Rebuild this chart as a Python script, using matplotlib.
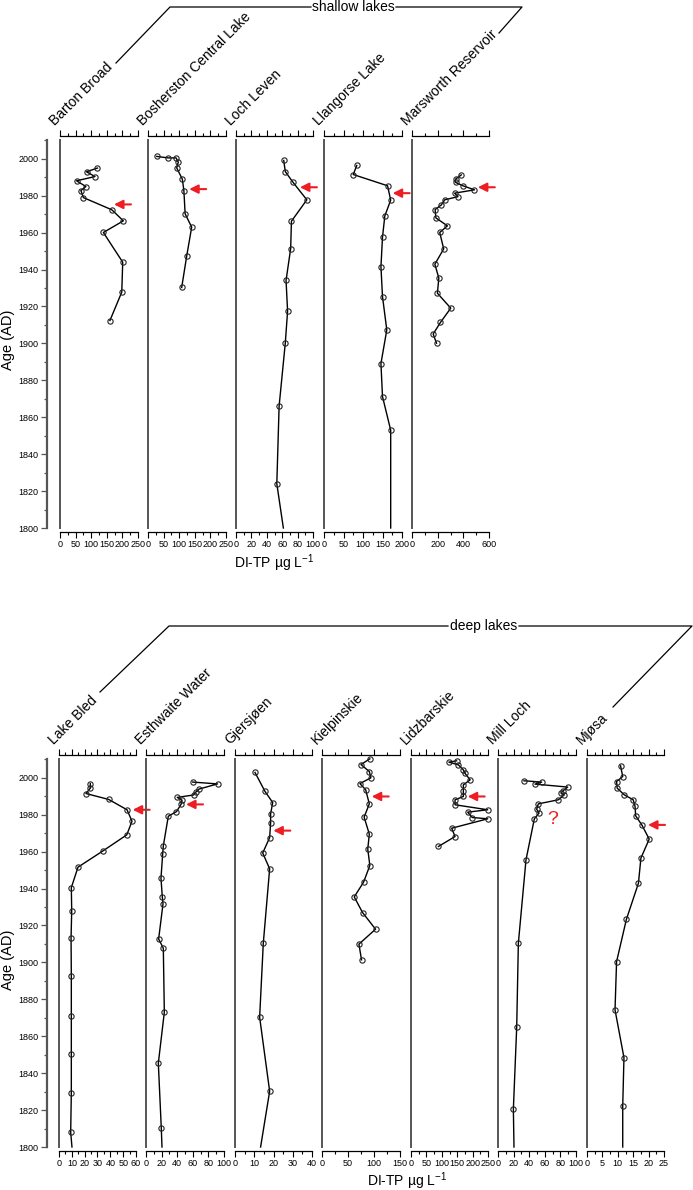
"""
Diatom-inferred TP profiles for shallow and deep lakes, 1800-2010.
Two stacked blocks of narrow stratigraphic panels sharing an age axis.
"""

import matplotlib
matplotlib.use('Agg')
import matplotlib.pyplot as plt
from matplotlib.lines import Line2D
from matplotlib.ticker import MultipleLocator

plt.rcParams['font.family'] = ['Liberation Sans', 'DejaVu Sans']
plt.rcParams['mathtext.fontset'] = 'custom'
plt.rcParams['mathtext.rm'] = 'Liberation Sans'
plt.rcParams['mathtext.it'] = 'Liberation Sans:italic'

W, H = 693, 1190
RED = '#ee1d23'
YTOP = 2010.2

# ---- shallow lakes ----
barton_age = [1995.0, 1993.0, 1990.4, 1988.1, 1985.0, 1982.8, 1979.0, 1972.4,
              1966.4, 1960.1, 1944.0, 1927.8, 1912.4]
barton_tp = [120, 85, 112, 53, 83, 67, 75, 166, 203, 139, 201, 198, 160]

bosh_age = [2001.3, 2000.5, 2000.5, 1998.2, 1995.1, 1989.0, 1982.8, 1970.2,
            1963.0, 1947.3, 1930.3]
bosh_tp = [28, 65, 90, 97, 92, 110, 115, 119, 140, 124, 108]

leven_age = [1999.1, 1993.1, 1987.3, 1977.8, 1966.2, 1951.4, 1934.1, 1917.5,
             1900.1, 1866.1, 1824.0]
leven_tp = [62, 64, 74, 92, 72, 71, 65, 67, 64, 56, 53]

llang_age = [1996.4, 1991.5, 1985.4, 1977.6, 1969.1, 1957.6, 1941.5, 1925.4,
             1907.3, 1889.1, 1871.2, 1853.0]
llang_tp = [84, 75, 163, 171, 156, 150, 146, 150, 161, 146, 150, 171]

mars_age = [1991.3, 1989.0, 1987.2, 1985.4, 1983.2, 1981.4, 1979.5, 1977.8,
            1975.0, 1972.5, 1968.0, 1963.7, 1960.1, 1951.2, 1942.9, 1935.4,
            1927.2, 1919.1, 1911.4, 1905.1, 1900.1]
mars_tp = [384, 340, 340, 397, 487, 332, 358, 255, 228, 180, 186, 276, 216,
           247, 178, 209, 198, 302, 222, 165, 191]

# ---- deep lakes ----
bled_age = [1996.9, 1994.4, 1991.5, 1988.3, 1982.7, 1976.5, 1969.1, 1960.3,
            1951.6, 1940.5, 1928.1, 1913.1, 1892.5, 1871.2, 1850.2, 1829.3,
            1808.1]
bled_tp = [24.4, 24.4, 21.0, 38.7, 53.0, 56.9, 52.8, 34.0, 14.8, 9.6, 9.9,
           9.4, 9.6, 9.6, 9.6, 9.6, 9.1]

esth_age = [1997.7, 1996.7, 1993.9, 1992.4, 1990.7, 1989.4, 1987.9, 1985.6,
            1981.7, 1979.2, 1963.1, 1958.8, 1945.6, 1935.5, 1931.7, 1912.7,
            1907.7, 1873.0, 1845.4, 1810.3]
esth_tp = [59.9, 91.7, 67.9, 64.1, 60.9, 40.1, 46.2, 44.9, 39.1, 28.6, 22.2,
           21.4, 19.2, 20.9, 21.8, 16.2, 22.2, 23.5, 15.8, 19.6]

gjer_age = [2002.9, 1992.6, 1986.6, 1980.5, 1975.6, 1967.6, 1959.3, 1950.7,
            1910.4, 1870.3, 1830.2]
gjer_tp = [10.4, 15.6, 19.6, 18.5, 18.5, 18.0, 14.4, 18.0, 14.7, 12.8, 18.0]

kiel_age = [2010.3, 2007.2, 2003.4, 2000.0, 1996.9, 1993.5, 1985.9, 1978.7,
            1969.5, 1961.4, 1952.5, 1943.5, 1935.5, 1927.0, 1918.0, 1909.9,
            1901.4]
kiel_tp = [92, 75, 91, 94, 73, 84, 91, 81, 91, 88, 92, 80, 62, 78, 103, 71, 76]

lidz_age = [2009.2, 2008.5, 2007.0, 2004.3, 2002.5, 1998.9, 1996.2, 1992.6,
            1989.9, 1988.1, 1985.4, 1982.7, 1981.4, 1978.5, 1977.8, 1972.7,
            1968.2, 1962.8]
lidz_tp = [148, 123, 154, 170, 175, 192, 170, 170, 170, 143, 143, 249, 184,
           199, 249, 132, 143, 89]

mill_age = [1998.4, 1997.7, 1996.6, 1995.0, 1993.1, 1991.7, 1990.8, 1988.1,
            1985.9, 1983.0, 1980.9, 1977.8, 1955.6, 1910.4, 1865.2, 1820.4]
mill_tp = [33.3, 56.0, 47.4, 89.3, 83.8, 80.8, 85.0, 77.4, 51.7, 49.6, 52.6,
           46.6, 35.9, 26.1, 24.0, 19.7]

mjosa_age = [2006.5, 2000.7, 1998.0, 1994.4, 1990.8, 1988.1, 1984.5, 1979.4,
             1974.5, 1966.8, 1956.5, 1942.9, 1923.4, 1900.4, 1874.3, 1848.4,
             1822.4]
mjosa_tp = [10.9, 11.6, 9.6, 9.8, 12.1, 15.0, 15.6, 15.8, 17.8, 20.2, 17.5,
            16.7, 12.8, 9.6, 9.1, 12.0, 11.6]

# value where the profile line meets the 1800 base (None = line stops)
shallow_base = [None, None, 61.5, 171, None]
deep_base = [10.1, 20.5, 13.3, None, None, 20.5, 11.6]

# red arrows: (value at arrow tip, age)
shallow_arrows = [(173, 1975.3), (132, 1983.6), (83, 1984.6), (176, 1981.4),
                  (513, 1984.6)]
deep_arrows = [(57.4, 1982.7), (51.3, 1985.6), (19.9, 1971.4), (95.6, 1989.9),
               (184, 1989.9), None, (19.8, 1974.5)]
mill_question = (70, 1977.6)

shallow_names = ['Barton Broad', 'Bosherston Central Lake', 'Loch Leven',
                 'Llangorse Lake', 'Marsworth Reservoir']
deep_names = ['Lake Bled', 'Esthwaite Water', 'Gjersjøen', 'Kielpinskie',
              'Lidzbarskie', 'Mill Loch', 'Mjøsa']

shallow_scale = [(250, 50, 25), (250, 50, 25), (100, 20, 10), (200, 50, 25),
                 (600, 200, 100)]
deep_scale = [(60, 10, 5), (100, 20, 10), (40, 10, 5), (150, 50, 25),
              (250, 50, 25), (100, 20, 10), (25, 5, 2.5)]

shallow_data = [(barton_age, barton_tp), (bosh_age, bosh_tp),
                (leven_age, leven_tp), (llang_age, llang_tp),
                (mars_age, mars_tp)]
deep_data = [(bled_age, bled_tp), (esth_age, esth_tp), (gjer_age, gjer_tp),
             (kiel_age, kiel_tp), (lidz_age, lidz_tp), (mill_age, mill_tp),
             (mjosa_age, mjosa_tp)]


def fig_line(fig, pts):
    xs = [p[0] / W for p in pts]
    ys = [1 - p[1] / H for p in pts]
    fig.add_artist(Line2D(xs, ys, color='black', lw=0.9,
                          transform=fig.transFigure))


def draw_panel(fig, left, right, top, bottom, name, age, tp, scale, base, arrow):
    xmax, major, minor = scale
    ax = fig.add_axes([left / W, 1 - bottom / H, (right - left) / W,
                       (bottom - top) / H])
    ax.patch.set_alpha(0)
    ax.set_xlim(0, xmax)
    ax.set_ylim(1800, YTOP)
    ax.spines['right'].set_visible(False)
    ax.spines['left'].set_color('#555555')
    ax.spines['left'].set_linewidth(1.4)
    for s in ('top', 'bottom'):
        ax.spines[s].set_position(('outward', 3))
        ax.spines[s].set_linewidth(0.9)
    ax.set_yticks([])
    ax.xaxis.set_major_locator(MultipleLocator(major))
    ax.xaxis.set_minor_locator(MultipleLocator(minor))
    ax.tick_params(axis='x', which='both', top=True, bottom=True,
                   labeltop=False, direction='out', width=0.8,
                   labelsize=6.5, pad=1.5)
    ax.tick_params(axis='x', which='major', length=4)
    ax.tick_params(axis='x', which='minor', length=2.5)

    line_x, line_y = list(tp), list(age)
    if base is not None:
        line_x.append(base)
        line_y.append(1800)
    ax.plot(line_x, line_y, color='black', lw=1.0, clip_on=False)
    ax.plot(tp, age, ls='none', marker='o', ms=3.8, mfc='none', mec='#222222',
            mew=0.8, clip_on=False)

    if arrow is not None:
        ax.annotate('', xy=arrow, xytext=(17, 0), textcoords='offset pixels',
                    annotation_clip=False,
                    arrowprops=dict(arrowstyle='-|>', color=RED, lw=1.5,
                                    mutation_scale=13, shrinkA=0, shrinkB=0))

    fig.text((left - 5) / W, 1 - (top - 14) / H, name, rotation=45,
             rotation_mode='anchor', ha='left', va='baseline', fontsize=10)
    return ax


def draw_age_axis(fig, x, top, bottom, label_y):
    ax = fig.add_axes([x / W, 1 - bottom / H, 0.001, (bottom - top) / H])
    ax.patch.set_alpha(0)
    ax.set_ylim(1800, YTOP)
    for s in ('right', 'top', 'bottom'):
        ax.spines[s].set_visible(False)
    ax.spines['left'].set_color('#555555')
    ax.spines['left'].set_linewidth(1.6)
    ax.set_xticks([])
    ax.yaxis.set_major_locator(MultipleLocator(20))
    ax.yaxis.set_minor_locator(MultipleLocator(10))
    ax.tick_params(axis='y', which='both', direction='out', width=0.9,
                   color='#555555', labelsize=6.5, pad=2)
    ax.tick_params(axis='y', which='major', length=4)
    ax.tick_params(axis='y', which='minor', length=2.5)
    fig.text(8.5 / W, 1 - label_y / H, 'Age (AD)', rotation=90,
             ha='center', va='center', fontsize=10.5)


def main():
    fig = plt.figure(figsize=(W / 100, H / 100), dpi=100)

    # shallow lakes block
    s_left = [60, 148, 236, 324, 412]
    s_right = [138, 226, 313, 402, 489]
    s_top, s_bot = 140, 528
    draw_age_axis(fig, 47, s_top, s_bot, 340)
    for i in range(len(shallow_names)):
        age, tp = shallow_data[i]
        draw_panel(fig, s_left[i], s_right[i], s_top, s_bot, shallow_names[i],
                   age, tp, shallow_scale[i], shallow_base[i], shallow_arrows[i])
    fig.text(274 / W, 1 - 563 / H, r'DI-TP µg L$^{-1}$', ha='center',
             va='center', fontsize=10)
    fig_line(fig, [(116, 63), (170, 7), (311, 7)])
    fig_line(fig, [(396, 7), (522, 7), (499, 33)])
    fig.text(353.5 / W, 1 - 10.8 / H, 'shallow lakes', ha='center',
             va='baseline', fontsize=10)

    # deep lakes block
    d_left = [59, 146, 235, 322, 411, 498, 587]
    d_right = [136, 224, 312, 400, 488, 576, 664]
    d_top, d_bot = 759, 1147
    draw_age_axis(fig, 47, d_top, d_bot, 960)
    for i in range(len(deep_names)):
        age, tp = deep_data[i]
        ax = draw_panel(fig, d_left[i], d_right[i], d_top, d_bot, deep_names[i],
                        age, tp, deep_scale[i], deep_base[i], deep_arrows[i])
        if deep_names[i] == 'Mill Loch':
            ax.text(mill_question[0], mill_question[1], '?', color=RED,
                    fontsize=14, ha='center', va='center')
    fig.text(407 / W, 1 - 1181 / H, r'DI-TP µg L$^{-1}$', ha='center',
             va='center', fontsize=10)
    fig_line(fig, [(100, 692), (169, 626), (448, 626)])
    fig_line(fig, [(519, 626), (692, 626), (613, 707)])
    fig.text(483.5 / W, 1 - 629.8 / H, 'deep lakes', ha='center',
             va='baseline', fontsize=10)

    fig.savefig('out.png', dpi=100)
    plt.close(fig)


if __name__ == '__main__':
    main()
